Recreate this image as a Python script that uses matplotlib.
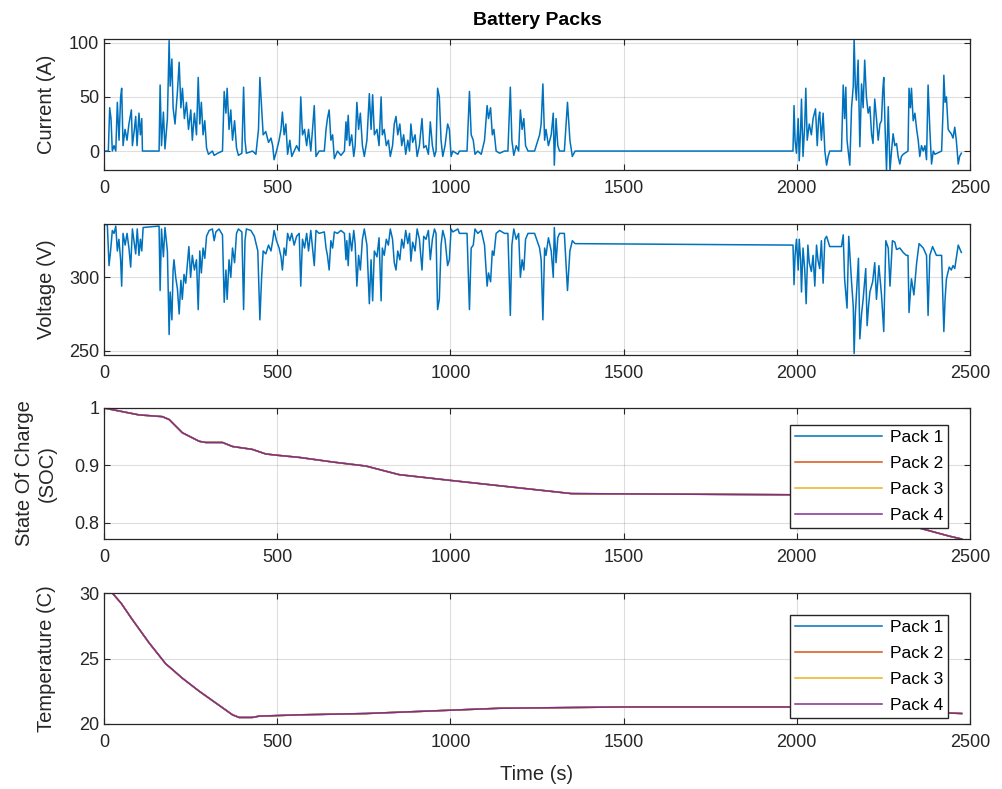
import numpy as np
import matplotlib
matplotlib.use("Agg")
import matplotlib.pyplot as plt

# current trace (s, A)
cur_t = [0, 12.5, 16.4, 20.2, 24, 29, 34, 38.5, 43.4, 48, 51, 55, 60.7, 66.5, 72, 79, 82, 87.7, 91.5, 95.4,
         101, 105, 109, 111, 159, 162, 166, 171.5, 176, 183, 188, 191, 196, 199.5, 205, 212, 217, 222, 226.4, 232,
         238, 244, 250.5, 255, 261, 267, 272, 276.5, 281, 286, 291, 296, 301.5, 313, 318, 328, 342, 347, 352, 355.5,
         361, 366, 371, 377, 382.5, 388, 398, 403, 407, 411, 429, 438.5, 446, 450, 455, 459.5, 467, 475, 482, 487,
         491, 498, 505.5, 511, 515, 520, 525, 530, 536.5, 542, 549, 556, 563.5, 568, 573, 579, 585, 590.5, 597, 602,
         607, 612, 621, 636, 641, 645, 650, 655, 660, 665, 674, 684, 694, 698.5, 701, 705, 709, 715, 721, 725,
         730, 735, 740, 746, 751.5, 759, 766, 771, 775.5, 780.5, 788, 794, 800, 803.5, 809, 815, 821, 826.5, 833, 838,
         843, 848, 854, 859.5, 865, 871, 877, 882, 886, 891, 898, 904, 910.5, 918, 923, 929.5, 936.5, 942, 948, 954,
         958.5, 963, 968, 973, 978, 984.5, 992, 997, 1002, 1007, 1021.5, 1026, 1048, 1055, 1060, 1066, 1071, 1079, 1089, 1098.5,
         1106, 1110, 1116, 1121, 1125.5, 1132, 1142, 1156, 1166, 1173, 1177.5, 1183, 1190, 1197, 1202, 1207, 1212, 1217,
         1224, 1243, 1257.5, 1262, 1267, 1272, 1276, 1283, 1291, 1297, 1300, 1305, 1310, 1315, 1329, 1338, 1345, 1352,
         1360, 1989, 1992, 1995, 1999, 2004, 2007, 2011, 2013.5, 2018, 2023, 2026, 2030, 2036, 2042, 2047, 2054, 2059,
         2063, 2066, 2071, 2076, 2081, 2086, 2090.5, 2095, 2129, 2134, 2138, 2141.5, 2145, 2153, 2158, 2163, 2165.5, 2169,
         2172, 2177, 2182, 2187, 2191.5, 2196, 2201, 2206, 2211, 2216, 2220, 2225, 2230, 2235, 2240, 2244.5, 2248, 2251,
         2255, 2259, 2264, 2269, 2273.5, 2278, 2283, 2288, 2292.5, 2297.5, 2302, 2307, 2321, 2324, 2328, 2331, 2336, 2341,
         2346, 2350.5, 2355, 2360, 2365, 2370, 2374.5, 2379, 2384, 2389, 2394, 2398.5, 2418, 2422.5, 2424.5, 2428, 2432, 2437,
         2441, 2446, 2451, 2456, 2460.5, 2466, 2470, 2475]
cur_a = [0, 0, 40, 30, 0, 5, 0, 45, 10, 50, 58, 5, 20, 10, 25, 38, 5, 20, 32, 5,
         35, 15, 30, 0, 0, 61, 5, 36, 2, 30, 102, 60, 85, 40, 25, 55, 82, 40, 58, 30,
         45, 20, 38, 10, 35, 15, 68, 25, 45, 15, 28, 3, -3, 0, -4, -2, 0, 55, 35, 58,
         20, 38, 10, 28, 3, -4, -2, 59, 10, -2, 0, -3, 20, 68, 40, 15, 18, 8, 12, 5,
         -8, 0, 10, 20, 36, 15, 25, -3, 10, -5, 0, 5, 0, 50, 15, 20, 5, 20, 0, 20,
         42, -5, 0, 0, 20, 30, 38, 10, 15, -7, 0, -4, 0, 27, 10, 33, 5, 15, -5, 5,
         45, 20, 35, 5, -5, 10, 53, 20, 52, 15, 20, 5, 50, 15, 20, 5, 10, -5, 5, 25,
         32, 15, 25, 5, 15, -3, 10, 0, 25, 8, 15, -5, 5, 30, 3, 5, -3, 27, 5, -5,
         0, 58, 50, 10, -5, 5, 25, 20, -5, 0, -3, 0, 0, 55, 15, 10, -3, 0, -3, 10,
         42, 30, 40, 15, 20, 0, -2, 0, 0, 59, 10, -4, 5, 0, 38, 20, 30, 5,
         0, 0, 15, 25, 62, 10, 20, 5, 15, 35, -13, 30, 5, 0, 0, 45, 10, -5,
         0, 0, 42, 10, -2, 30, -9, 20, 48, -5, 25, 58, 10, 25, 15, 30, 39, 5,
         30, 36, 10, 35, 0, -13, -5, 0, 0, 61, 30, 59, 10, -13, 40, 60, 104, 60,
         47, 84, 4, 62, 40, 84, 50, 35, 41, 15, 7, 48, 30, 10, 25, 28, 55, 68,
         20, -18, 41, -18, 0, 16, 5, 7, -5, -12, -5, -3, 0, 58, 40, 58, 28, 35,
         20, 10, -5, 5, 0, 5, -8, 61, 20, -12, 0, -3, 0, 40, 70, 45, 50, 20,
         18, 16, 12, 22, 10, -12, -5, -2]

# voltage trace (s, V)
volt_t = [0, 9.6, 14.5, 19, 24, 29, 34, 38.5, 43, 48, 51, 55, 61, 66.5, 72, 77, 82, 88, 91.5, 96,
          101, 105, 109, 113, 159, 162, 166, 171.5, 176, 183, 188, 191, 196, 199.5, 202, 207, 212, 217, 222, 226,
          231, 236, 241, 245, 250, 255, 261, 267, 272, 276.5, 281, 286, 291, 296, 303.5, 313, 318, 323, 332, 342,
          347, 352, 355.5, 361, 366, 371, 377, 382.5, 388, 398, 403, 407, 411, 424, 434, 444, 450, 455, 459.5, 467,
          475, 482, 487, 491, 498, 505.5, 511, 515, 520, 525, 530, 536.5, 542, 549, 556, 563.5, 568, 573, 579, 585,
          590.5, 597, 602, 607, 612, 621, 636, 641, 645, 650, 655, 660, 665, 674, 684, 694, 698.5, 701, 705, 709,
          715, 721, 725, 730, 735, 740, 746, 751.5, 759, 766, 771, 775.5, 780.5, 788, 794, 800, 803.5, 809, 815, 821,
          826.5, 833, 838, 843, 848, 854, 859.5, 865, 871, 877, 882, 886, 891, 898, 904, 910.5, 918, 923, 929.5, 936.5,
          942, 948, 954, 958.5, 963, 968, 973, 978, 984.5, 992, 997, 1002, 1007, 1021.5, 1026, 1048, 1055, 1060, 1066, 1071,
          1079, 1089, 1098.5, 1106, 1110, 1116, 1121, 1125.5, 1132, 1142, 1156, 1166, 1173, 1177.5, 1183, 1190, 1197, 1202,
          1207, 1212, 1217, 1224, 1243, 1257.5, 1262, 1267, 1272, 1276, 1283, 1291, 1297, 1300, 1305, 1310, 1315, 1329,
          1338, 1345, 1352, 1360, 1989, 1992, 1995, 1999, 2004, 2007, 2011, 2013.5, 2018, 2023, 2027, 2032, 2036, 2042,
          2047, 2052, 2057, 2061, 2066, 2071, 2076, 2081, 2086, 2095, 2129, 2134, 2138, 2145, 2150, 2158, 2163, 2165.5,
          2169, 2172, 2178, 2182, 2187, 2191.5, 2199, 2203, 2207, 2211, 2219, 2225, 2230, 2237, 2244.5, 2251, 2257, 2264,
          2269, 2276, 2283, 2288, 2297.5, 2307, 2316, 2321, 2324, 2328, 2331, 2338, 2346, 2353, 2365, 2374.5, 2379, 2384,
          2392, 2403, 2418, 2424.5, 2428, 2432, 2440, 2446, 2451, 2456, 2466, 2475]
volt_v = [336, 336, 308, 318, 332, 330, 335, 318, 326, 312, 294, 330, 322, 330, 320, 307, 333, 322, 316, 333,
          315, 326, 318, 334, 335, 291, 333, 314, 334, 318, 261, 290, 271, 305, 312, 300, 292, 275, 298, 285,
          302, 296, 310, 321, 300, 315, 305, 312, 278, 318, 303, 320, 313, 328, 332, 333, 325, 331, 333, 329,
          283, 305, 285, 312, 300, 320, 310, 330, 333, 331, 278, 325, 333, 332, 328, 318, 271, 300, 318, 316,
          322, 318, 325, 332, 325, 320, 314, 305, 320, 315, 330, 325, 330, 322, 328, 330, 294, 326, 320, 330,
          318, 332, 320, 308, 332, 330, 331, 320, 315, 305, 325, 320, 331, 330, 332, 330, 312, 325, 308, 330,
          318, 332, 323, 294, 315, 305, 326, 333, 322, 282, 312, 284, 318, 314, 327, 284, 320, 315, 326, 322,
          333, 326, 310, 305, 318, 312, 326, 320, 332, 323, 330, 311, 324, 318, 333, 326, 305, 328, 326, 332,
          312, 326, 333, 330, 278, 285, 322, 332, 326, 308, 312, 333, 331, 333, 330, 330, 278, 320, 322, 333,
          330, 332, 322, 294, 303, 297, 318, 315, 330, 332, 330, 330, 274, 322, 333, 326, 330, 300,
          312, 305, 326, 330, 330, 320, 312, 271, 320, 315, 327, 318, 300, 334, 310, 327, 330, 330,
          291, 318, 325, 323, 322, 295, 315, 326, 305, 326, 312, 290, 320, 305, 282, 322, 310, 304,
          315, 294, 322, 312, 306, 325, 296, 326, 328, 321, 321, 329, 299, 279, 328, 297, 280, 248,
          275, 288, 313, 258, 275, 285, 306, 267, 280, 290, 297, 310, 285, 308, 288, 263, 325, 320,
          294, 325, 324, 319, 320, 317, 315, 315, 276, 290, 299, 288, 310, 323, 320, 315, 274, 315,
          321, 315, 315, 263, 285, 299, 307, 305, 308, 306, 322, 317]

# state of charge
soc_t = [0, 101, 168, 188, 226, 275, 294, 342, 371, 428, 467, 496, 564, 660, 756, 852, 1000, 1350, 1990, 2100, 2250, 2440, 2476]
soc_v = [1.0, 0.988, 0.985, 0.98, 0.957, 0.942, 0.94, 0.94, 0.933, 0.928, 0.92, 0.918, 0.914, 0.906, 0.899, 0.884, 0.874, 0.851, 0.849, 0.835, 0.808, 0.777, 0.772]

# temperature
temp_t = [0, 24, 50, 81, 130, 178, 200, 226, 275, 323, 371, 390, 428, 448, 564, 756, 997, 1141, 1500, 1990, 2200, 2476]
temp_v = [30.0, 30.0, 29.2, 28.0, 26.2, 24.6, 24.1, 23.5, 22.5, 21.6, 20.7, 20.5, 20.5, 20.6, 20.7, 20.8, 21.05, 21.2, 21.3, 21.3, 21.1, 20.8]

packs = ["Pack 1", "Pack 2", "Pack 3", "Pack 4"]
pack_colors = ["#0072BD", "#D95319", "#EDB120", "#7E2F8E"]

plt.rcParams['font.family'] = ['Liberation Sans', 'DejaVu Sans']
plt.rcParams['font.size'] = 13

fig = plt.figure(figsize=(10.02, 7.89), dpi=100)
tops = [39, 224, 408, 593]
axes = []
for top in tops:
    ax = fig.add_axes([104 / 1002, 1 - (top + 131) / 789, 866 / 1002, 131 / 789])
    axes.append(ax)


def style(ax):
    ax.set_xlim(0, 2500)
    ax.set_xticks([0, 500, 1000, 1500, 2000, 2500])
    ax.grid(True, color='#262626', alpha=0.15, linewidth=0.8)
    ax.tick_params(direction='in', top=True, right=True, length=4, colors='#262626', labelsize=13)
    ax.tick_params(axis='x', pad=7)
    for s in ax.spines.values():
        s.set_color('#262626')
        s.set_linewidth(0.9)
    ax.set_axisbelow(True)


def add_legend(ax, yb):
    ax.legend(loc='lower right', bbox_to_anchor=(0.975, yb), fancybox=False, edgecolor='#262626',
              framealpha=1, handlelength=5.0, fontsize=12.5, borderpad=0.3, labelspacing=0.62,
              handletextpad=0.45, borderaxespad=0)


ax = axes[0]
ax.plot(cur_t, cur_a, color='#0072BD', lw=1.1)
ax.set_ylim(-17.5, 103.5)
ax.set_yticks([0, 50, 100])
ax.set_ylabel('Current (A)', color='#262626', fontsize=14.5)
ax.set_title('Battery Packs', fontweight='bold', fontsize=14, pad=10)
style(ax)

ax = axes[1]
ax.plot(volt_t, volt_v, color='#0072BD', lw=1.1)
ax.set_ylim(247, 336.4)
ax.set_yticks([250, 300])
ax.set_ylabel('Voltage (V)', color='#262626', fontsize=14.5)
style(ax)

ax = axes[2]
for name, c in zip(packs, pack_colors):
    ax.plot(soc_t, soc_v, color=c, lw=1.1, label=name)
ax.set_ylim(0.772, 1.0)
ax.set_yticks([0.8, 0.9, 1.0])
ax.set_yticklabels(['0.8', '0.9', '1'])
ax.set_ylabel('State Of Charge\n(SOC)', color='#262626', fontsize=14.5, linespacing=1.25)
style(ax)
add_legend(ax, 0.084)

ax = axes[3]
for name, c in zip(packs, pack_colors):
    ax.plot(temp_t, temp_v, color=c, lw=1.1, label=name)
ax.set_ylim(20, 30)
ax.set_yticks([20, 25, 30])
ax.set_ylabel('Temperature (C)', color='#262626', fontsize=14.5)
ax.set_xlabel('Time (s)', color='#262626', fontsize=14.5, labelpad=10)
style(ax)
add_legend(ax, 0.046)

for a in axes:
    a.yaxis.set_label_coords(-0.055, 0.5)

fig.savefig('out.png', dpi=100)
